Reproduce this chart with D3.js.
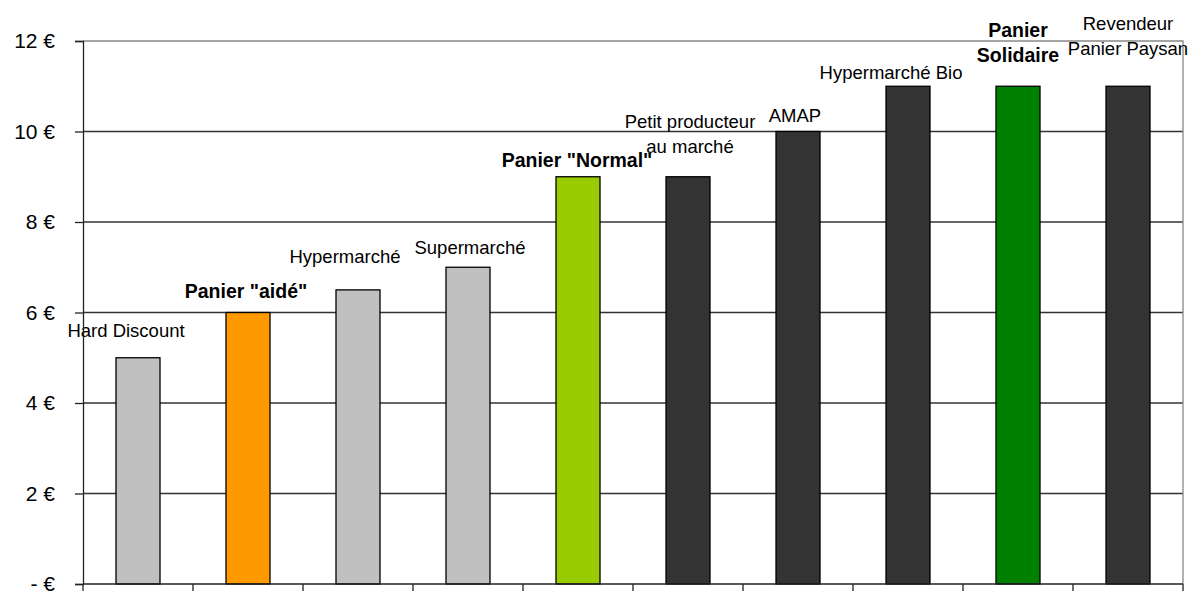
<!DOCTYPE html>
<html>
<head>
<meta charset="utf-8">
<script src="https://cdn.jsdelivr.net/npm/d3@7"></script>
<style>
  html, body { margin: 0; padding: 0; background: #fff; }
  svg { display: block; }
</style>
</head>
<body>
<svg id="chart" width="1188" height="591"></svg>
<script>
// ---- data ----
const categories = ["Hard Discount", "Panier \"aidé\"", "Hypermarché", "Supermarché", "Panier \"Normal\"",
  "Petit producteur au marché", "AMAP", "Hypermarché Bio", "Panier Solidaire", "Revendeur Panier Paysan"];
const labelLines = [["Hard Discount"], ["Panier \"aidé\""], ["Hypermarché"], ["Supermarché"], ["Panier \"Normal\""],
  ["Petit producteur", "au marché"], ["AMAP"], ["Hypermarché Bio"], ["Panier", "Solidaire"], ["Revendeur", "Panier Paysan"]];
const values = [5, 6, 6.5, 7, 9, 9, 10, 11, 11, 11];
const yTicks = [0, 2, 4, 6, 8, 10, 12];
const boldLabel = [false, true, false, false, true, false, false, false, true, false];
const barColors = ["#C0C0C0", "#FF9900", "#C0C0C0", "#C0C0C0", "#99CC00", "#333333", "#333333", "#333333", "#008000", "#333333"];
// label placement (offset from bar centre / bar top), layout only
const labelDx = [-12, -2, -13, 2, -1, 2, -3, -17, 0, 0];
const labelBaseAbove = [21, 15, 26.5, 13.7, 9.5, 48.5, 9.2, 7, 49.3, 56.7];
const lineHeight = 25;

const svg = d3.select("#chart");
const mLeft = 83, mRight = 1183, mTop = 41, mBottom = 584;

const x = d3.scaleBand().domain(categories).range([mLeft, mRight]).padding(0);
const y = d3.scaleLinear().domain([0, 12]).range([mBottom, mTop]);

// gridlines
svg.append("g").selectAll("line").data(yTicks.filter(t => t > 0 && t < 12)).join("line")
  .attr("x1", mLeft).attr("x2", mRight)
  .attr("y1", d => y(d)).attr("y2", d => y(d))
  .attr("stroke", "#333").attr("stroke-width", 1.3);

// plot border (top/right)
svg.append("path")
  .attr("d", `M${mLeft},${y(12)}H${mRight}V${mBottom}`)
  .attr("fill", "none").attr("stroke", "#888").attr("stroke-width", 1.3);

// bars
const bw = x.bandwidth() * 0.4;
svg.append("g").selectAll("rect").data(categories).join("rect")
  .attr("x", d => x(d) + (x.bandwidth() - bw) / 2)
  .attr("y", (d, i) => y(values[i]))
  .attr("width", bw)
  .attr("height", (d, i) => y(0) - y(values[i]))
  .attr("fill", (d, i) => barColors[i])
  .attr("stroke", "#000").attr("stroke-width", 1.3);

// data labels
const lbl = svg.append("g").attr("font-family", "Liberation Sans, Arial, sans-serif").attr("fill", "#000");
categories.forEach((c, i) => {
  const cx = x(c) + x.bandwidth() / 2 + labelDx[i];
  const base = y(values[i]) - labelBaseAbove[i];
  const t = lbl.append("text").attr("text-anchor", "middle")
    .attr("font-size", boldLabel[i] ? 19.5 : 18.5)
    .attr("font-weight", boldLabel[i] ? "bold" : "normal");
  labelLines[i].forEach((ln, k) => {
    t.append("tspan").attr("x", cx).attr("y", base + k * lineHeight).text(ln);
  });
});

// y axis
const yAxis = d3.axisLeft(y).tickValues(yTicks).tickSize(8).tickPadding(20)
  .tickFormat(d => d === 0 ? "- €" : d + " €");
const ga = svg.append("g").attr("transform", `translate(${mLeft},0)`).call(yAxis);
ga.select(".domain").attr("stroke", "#222").attr("stroke-width", 1.3);
ga.selectAll(".tick line").attr("stroke", "#222").attr("stroke-width", 1.3);
ga.selectAll(".tick text").attr("font-family", "Liberation Sans, Arial, sans-serif").attr("font-size", 21).attr("fill", "#000");

// x axis
const xAxis = d3.axisBottom(x).tickSize(0).tickFormat("");
const gx = svg.append("g").attr("transform", `translate(0,${mBottom})`).call(xAxis);
gx.select(".domain").attr("d", `M${mLeft},0H${mRight}`).attr("stroke", "#222").attr("stroke-width", 1.3);
gx.append("g").selectAll("line").data(categories.map(c => x(c)).concat([mRight])).join("line")
  .attr("x1", d => d).attr("x2", d => d).attr("y1", 0).attr("y2", 8)
  .attr("stroke", "#222").attr("stroke-width", 1.3);
</script>
</body>
</html>
